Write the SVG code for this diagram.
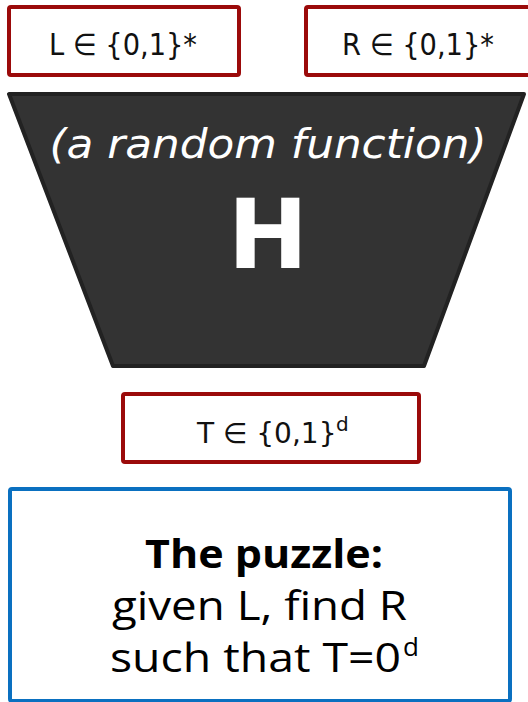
<svg xmlns="http://www.w3.org/2000/svg" width="528" height="702" viewBox="0 0 528 702">
<style>
.rb{fill:#fff;stroke:#9b0a0a;stroke-width:4}
.lbl{font-family:"DejaVu Sans",sans-serif;font-size:30px;fill:#111}
.puz{font-family:"Open Sans","Liberation Sans",sans-serif;font-size:40px;fill:#000}
</style>
<rect width="528" height="702" fill="#fff"/>
<g id="node-L">
<rect class="rb" x="9" y="7" width="230" height="68" rx="2"/>
<text class="lbl" x="49" y="55" textLength="148" lengthAdjust="spacingAndGlyphs">L ∈ {0,1}*</text>
</g>
<g id="node-R">
<rect class="rb" x="306" y="7" width="226" height="68" rx="2"/>
<text class="lbl" x="342" y="55" textLength="152" lengthAdjust="spacingAndGlyphs">R ∈ {0,1}*</text>
</g>
<g id="node-H">
<polygon points="9,94 524,94 424,366 113,366" fill="#333" stroke="#222" stroke-width="4" stroke-linejoin="round"/>
<text x="268" y="158" font-family="'DejaVu Sans',sans-serif" font-style="italic" font-size="40" fill="#fff" text-anchor="middle" textLength="437" lengthAdjust="spacingAndGlyphs">(a random function)</text>
<text x="268" y="268" font-family="'DejaVu Sans',sans-serif" font-weight="bold" font-size="96" fill="#fff" text-anchor="middle">H</text>
</g>
<g id="node-T">
<rect class="rb" x="123" y="394" width="296" height="68" rx="2"/>
<text class="lbl" x="197" y="443" style="font-size:28px">T ∈ {0,1}</text>
<text class="lbl" x="336" y="431" style="font-size:20px">d</text>
</g>
<g id="node-puzzle">
<rect x="10" y="489" width="500" height="212" fill="#fff" stroke="#0a70c0" stroke-width="4" rx="2"/>
<text class="puz" x="145" y="568" font-weight="bold" textLength="238" lengthAdjust="spacingAndGlyphs">The puzzle:</text>
<text class="puz" x="112" y="620" textLength="295" lengthAdjust="spacingAndGlyphs">given L, find R</text>
<text class="puz" x="110" y="672" textLength="291" lengthAdjust="spacingAndGlyphs">such that T=0</text>
<text class="puz" x="403" y="656" style="font-size:26px">d</text>
</g>
<g id="connectors"></g>
</svg>
